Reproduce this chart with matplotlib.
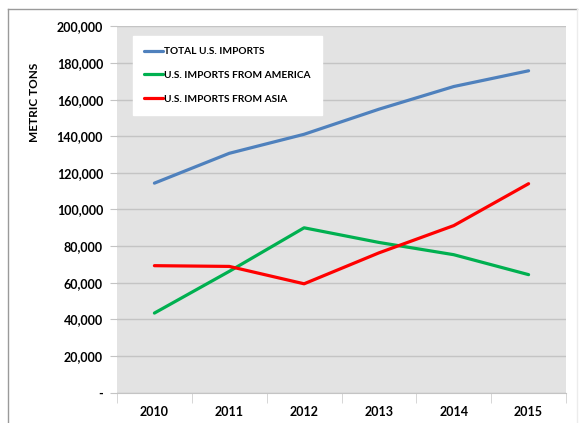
import matplotlib.pyplot as plt
from matplotlib.lines import Line2D
from matplotlib.ticker import FuncFormatter

# values
years = ['2010', '2011', '2012', '2013', '2014', '2015']
total_imports = [114400, 130700, 141100, 154800, 167200, 175800]
america_imports = [43400, 66200, 90000, 82000, 75300, 64400]
asia_imports = [69300, 68900, 59400, 76300, 91200, 114100]
series_names = ['TOTAL U.S. IMPORTS', 'U.S. IMPORTS FROM AMERICA', 'U.S. IMPORTS FROM ASIA']
series_colors = ['#4f81bd', '#00b050', '#ff0000']

plt.rcParams['font.family'] = ['Lato', 'DejaVu Sans']
plt.rcParams['font.weight'] = 'bold'

W, H = 579, 423
fig = plt.figure(figsize=(W / 100, H / 100), dpi=100)

# plot area in pixels
left, right, top, bottom = 117, 566, 26.5, 392.5
ax = fig.add_axes([left / W, 1 - bottom / H, (right - left) / W, (bottom - top) / H])
ax.set_facecolor('#e3e3e3')

x = list(range(len(years)))
for vals, name, col in zip([total_imports, america_imports, asia_imports], series_names, series_colors):
    ax.plot(x, vals, color=col, lw=2.3, label=name, solid_capstyle='round', zorder=3)

ax.set_xlim(-0.5, len(years) - 0.5)
ax.set_ylim(0, 200000)
ax.set_yticks(range(0, 200001, 20000))
ax.yaxis.set_major_formatter(FuncFormatter(lambda v, p: '-' if v == 0 else f'{int(v):,}'))
ax.set_xticks(x)
ax.set_xticklabels(years)
ax.set_xticks([i - 0.5 for i in range(len(years) + 1)], minor=True)

ax.grid(axis='y', color='#c4c4c4', lw=1)
ax.set_axisbelow(True)
for s in ['top', 'right', 'left']:
    ax.spines[s].set_visible(False)
ax.spines['bottom'].set_color('#c4c4c4')

ax.tick_params(axis='y', length=5, color='#c4c4c4', labelsize=9, pad=5)
ax.tick_params(axis='x', which='major', length=0, labelsize=9, pad=10)
ax.tick_params(axis='x', which='minor', length=7, color='#d0d0d0')

fig.text(35 / W, 1 - 102 / H, 'METRIC TONS', rotation=90, ha='center', va='center',
         fontsize=8.5, fontweight='bold')

leg = ax.legend(loc='upper left', bbox_to_anchor=((133 - left) / (right - left), (bottom - 36) / (bottom - top)),
                frameon=True, fancybox=False, fontsize=7.3, handlelength=1.9, handletextpad=0.05,
                labelspacing=1.45, borderpad=1.1, borderaxespad=0)
leg.get_frame().set_facecolor('white')
leg.get_frame().set_edgecolor('white')
leg.get_frame().set_alpha(1)

# outer frame of the screenshot
fig.add_artist(Line2D([8 / W, 8 / W], [0, 1 - 9 / H], transform=fig.transFigure, color='#9a9a9a', lw=1))
fig.add_artist(Line2D([8 / W, 577 / W], [1 - 9 / H, 1 - 9 / H], transform=fig.transFigure, color='#9a9a9a', lw=1))
fig.add_artist(Line2D([577 / W, 577 / W], [0, 1 - 9 / H], transform=fig.transFigure, color='#ececec', lw=1))

fig.savefig('out.png', dpi=100)
